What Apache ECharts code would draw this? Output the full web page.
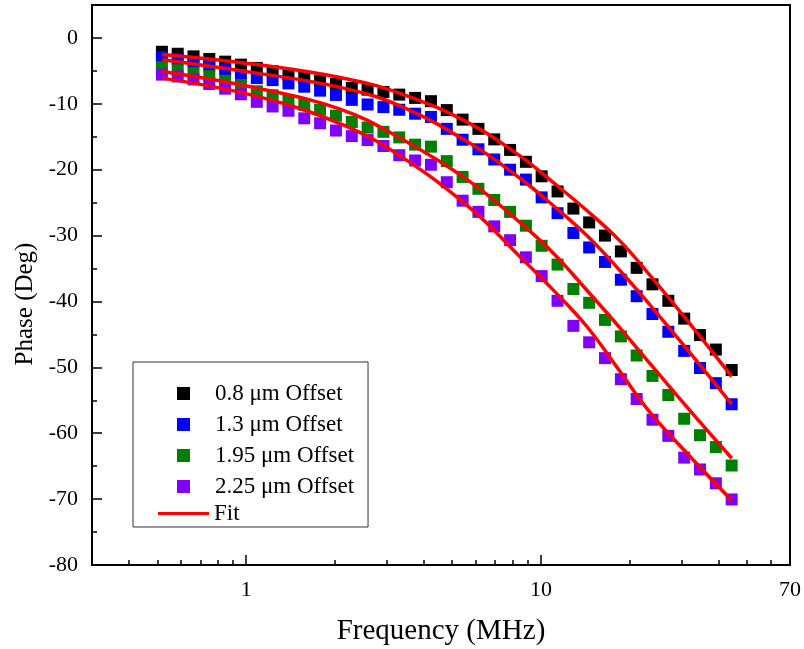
<!DOCTYPE html>
<html>
<head>
<meta charset="utf-8">
<title>Phase vs Frequency</title>
<script src="https://cdn.jsdelivr.net/npm/echarts@6/dist/echarts.min.js"></script>
<style>
  html, body { margin: 0; padding: 0; background: #fff; }
  #chart { width: 804px; height: 649px; }
</style>
</head>
<body>
<div id="chart"></div>
<script>
// Measured frequencies (MHz)
const freq = [0.518, 0.586, 0.663, 0.750, 0.849, 0.960, 1.087, 1.230, 1.392, 1.575,
  1.782, 2.017, 2.283, 2.583, 2.923, 3.308, 3.744, 4.236, 4.794, 5.425,
  6.138, 6.947, 7.862, 8.894, 10.06, 11.39, 12.89, 14.58, 16.50, 18.68,
  21.13, 23.91, 27.06, 30.63, 34.66, 39.22, 44.38];

// Measured phase (deg) for each offset
const phase08 = [-2.1, -2.4, -2.8, -3.2, -3.6, -4.05, -4.55, -5.05, -5.55, -6.0,
  -6.5, -7.0, -7.6, -7.85, -8.2, -8.6, -9.1, -9.6, -10.95, -12.4,
  -13.8, -15.4, -17.0, -18.8, -21.0, -23.3, -25.9, -28.0, -30.0, -32.4,
  -34.9, -37.4, -39.9, -42.6, -45.1, -47.3, -50.4];
const phase13 = [-2.9, -3.2, -3.6, -4.15, -4.8, -5.6, -6.1, -6.4, -6.9, -7.4,
  -8.0, -8.65, -9.4, -10.1, -10.5, -10.9, -11.5, -12.0, -13.8, -15.45,
  -16.9, -18.45, -20.0, -21.5, -24.2, -26.6, -29.6, -31.8, -34.0, -36.7,
  -39.2, -41.9, -44.6, -47.5, -50.1, -52.4, -55.6];
const phase195 = [-4.45, -4.9, -5.3, -5.8, -6.5, -7.15, -8.1, -8.7, -9.5, -10.15,
  -10.9, -11.8, -12.75, -13.6, -14.25, -15.1, -16.2, -16.5, -18.7, -21.1,
  -22.9, -24.6, -26.4, -28.5, -31.55, -34.4, -38.1, -40.2, -42.8, -45.3,
  -48.2, -51.3, -54.2, -57.8, -60.3, -62.1, -64.9];
const phase225 = [-5.57, -5.85, -6.3, -7.0, -7.7, -8.55, -9.7, -10.4, -11.05, -12.2,
  -12.95, -14.05, -14.9, -15.5, -16.4, -17.8, -18.6, -19.25, -21.9, -24.7,
  -26.4, -28.6, -30.7, -33.3, -36.15, -39.9, -43.7, -46.2, -48.6, -51.8,
  -54.8, -57.95, -60.4, -63.7, -65.5, -67.6, -70.05];

// Fitted curves, sampled along frequency
const fitFreq = [0.519, 1.073, 2.083, 3.327, 5.745, 8.49, 10.98, 14.32, 18.53, 23.42, 31.25, 44.41];
const fit08  = [-2.5, -4.0, -6.0, -8.4, -13.0, -17.9, -21.9, -26.2, -30.8, -36.0, -42.8, -51.4];
const fit13  = [-3.3, -5.3, -7.5, -10.3, -16.0, -21.3, -25.4, -30.0, -35.3, -40.5, -47.2, -55.6];
const fit195 = [-5.1, -7.55, -10.8, -15.2, -21.8, -28.0, -32.6, -38.3, -44.0, -49.4, -56.0, -63.8];
const fit225 = [-6.1, -8.8, -13.0, -17.9, -25.8, -33.2, -38.2, -43.8, -50.6, -56.8, -63.0, -70.2];

// Axis ticks
const yTickValues = [-80, -70, -60, -50, -40, -30, -20, -10, 0];
const yMinorValues = [-75, -65, -55, -45, -35, -25, -15, -5];
const xMinorValues = [0.4, 0.5, 0.6, 0.7, 0.8, 0.9, 2, 3, 4, 5, 6, 7, 8, 9, 20, 30, 40, 50, 60];

const seriesNames = ['0.8 \u03bcm Offset', '1.3 \u03bcm Offset', '1.95 \u03bcm Offset', '2.25 \u03bcm Offset'];
const seriesColors = ['#000000', '#0000ff', '#008000', '#8000ff'];
const measured = [phase08, phase13, phase195, phase225];
const fits = [fit08, fit13, fit195, fit225];

const FONT = 'Liberation Serif';
const X_MIN = 0.3, X_MAX = 70;

const series = [];
measured.forEach((vals, k) => {
  series.push({
    name: seriesNames[k],
    type: 'scatter',
    xAxisIndex: 0, yAxisIndex: 0,
    symbol: 'rect',
    symbolSize: 12,
    itemStyle: { color: seriesColors[k], opacity: 1 },
    z: 2 + k,
    data: freq.map((f, i) => [f, vals[i]])
  });
});
fits.forEach((vals) => {
  series.push({
    name: 'Fit',
    type: 'line',
    xAxisIndex: 0, yAxisIndex: 0,
    smooth: 0.4,
    showSymbol: false,
    symbol: 'none',
    color: '#ff0000',
    itemStyle: { color: '#ff0000' },
    lineStyle: { color: '#ff0000', width: 3.5 },
    z: 10,
    data: fitFreq.map((f, i) => [f, vals[i]])
  });
});

const legendText = { fontFamily: FONT, fontSize: 23, color: '#000', lineHeight: 23 };

const chart = echarts.init(document.getElementById('chart'), null, { renderer: 'canvas' });
chart.setOption({
  animation: false,
  backgroundColor: '#ffffff',
  grid: {
    left: 92, right: 14, top: 5, bottom: 84,
    outerBoundsMode: 'none',
    containLabel: false,
    show: true, borderColor: '#000', borderWidth: 2, backgroundColor: 'transparent'
  },
  legend: [{
    // measured-data entries, framed box
    orient: 'vertical',
    left: 133, top: 362,
    padding: [20, 14, 29, 44],
    itemGap: 8,
    itemWidth: 13, itemHeight: 13,
    icon: 'rect',
    borderColor: '#333', borderWidth: 1,
    textStyle: Object.assign({ padding: [0, 0, 0, 20] }, legendText),
    data: seriesNames
  }, {
    // fit entry
    orient: 'vertical',
    left: 158, top: 502,
    padding: 0,
    itemWidth: 51, itemHeight: 3,
    icon: 'rect',
    textStyle: legendText,
    data: [{ name: 'Fit', itemStyle: { color: '#ff0000' } }]
  }],
  xAxis: [{
    type: 'log',
    logBase: 10,
    min: X_MIN, max: X_MAX,
    position: 'bottom',
    name: 'Frequency (MHz)',
    nameLocation: 'middle',
    nameGap: 52,
    nameTextStyle: { fontFamily: FONT, fontSize: 29, color: '#000' },
    axisLine: { show: true, onZero: false, lineStyle: { color: '#000', width: 2 } },
    axisTick: { show: true, inside: true, length: 10, lineStyle: { color: '#000', width: 1.5 } },
    minorTick: { show: false },
    splitLine: { show: false },
    axisLabel: {
      fontFamily: FONT, fontSize: 22, color: '#000', margin: 14,
      showMinLabel: false, showMaxLabel: true,
      formatter: v => (v < 0.5 ? '' : String(Math.round(v)))
    }
  }, {
    // minor ticks on the frequency axis (log-spaced)
    type: 'value',
    min: Math.log10(X_MIN), max: Math.log10(X_MAX),
    position: 'bottom',
    axisLine: { show: false, onZero: false },
    axisLabel: { show: false },
    splitLine: { show: false },
    axisTick: {
      show: true, inside: true, length: 5,
      customValues: xMinorValues.map(v => Math.log10(v)),
      lineStyle: { color: '#000', width: 1.5 }
    }
  }],
  yAxis: [{
    type: 'value',
    min: -80, max: 5, interval: 10,
    position: 'left',
    name: 'Phase (Deg)',
    nameLocation: 'middle',
    nameGap: 52,
    nameRotate: 90,
    nameTextStyle: { fontFamily: FONT, fontSize: 25, color: '#000', padding: [0, 38, 0, 0] },
    axisLine: { show: true, onZero: false, lineStyle: { color: '#000', width: 2 } },
    axisTick: {
      show: true, inside: true, length: 10,
      customValues: yTickValues,
      lineStyle: { color: '#000', width: 1.5 }
    },
    splitLine: { show: false },
    axisLabel: {
      fontFamily: FONT, fontSize: 22, color: '#000', margin: 14,
      customValues: yTickValues
    }
  }, {
    // minor ticks on the phase axis
    type: 'value',
    min: -80, max: 5,
    position: 'left',
    axisLine: { show: false, onZero: false },
    axisLabel: { show: false },
    splitLine: { show: false },
    axisTick: {
      show: true, inside: true, length: 5,
      customValues: yMinorValues,
      lineStyle: { color: '#000', width: 1.5 }
    }
  }],
  series: series
});
</script>
</body>
</html>
